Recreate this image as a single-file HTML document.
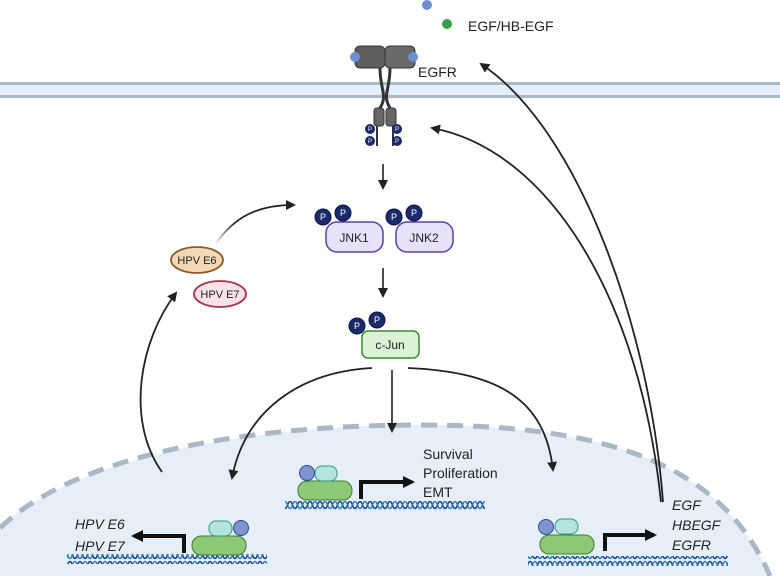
<!DOCTYPE html>
<html><head><meta charset="utf-8"><style>
html,body{margin:0;padding:0;background:#fff;width:780px;height:576px;overflow:hidden;}
svg{display:block;font-family:"Liberation Sans",sans-serif;}
</style></head><body>
<svg width="780" height="576" viewBox="0 0 780 576" xmlns="http://www.w3.org/2000/svg">
<defs>
<marker id="ah" markerWidth="10" markerHeight="10" refX="8" refY="5" orient="auto" markerUnits="userSpaceOnUse">
<path d="M0,0 L10,5 L0,10 z" fill="#222"/></marker>
<marker id="ah2" markerWidth="12" markerHeight="12" refX="9" refY="6" orient="auto" markerUnits="userSpaceOnUse">
<path d="M0,0 L12,6 L0,12 z" fill="#111"/></marker>
<pattern id="dna" patternUnits="userSpaceOnUse" width="10" height="10" x="0" y="0">
<path d="M0,1.5 C2.5,1.5 2.5,8.5 5,8.5 C7.5,8.5 7.5,1.5 10,1.5" fill="none" stroke="#1f3b8c" stroke-width="1.6"/>
<path d="M0,8.5 C2.5,8.5 2.5,1.5 5,1.5 C7.5,1.5 7.5,8.5 10,8.5" fill="none" stroke="#2a7fb8" stroke-width="1.6"/>
</pattern>
<linearGradient id="fade" x1="0" y1="1" x2="1" y2="0"><stop offset="0" stop-color="#222" stop-opacity="0"/><stop offset="0.4" stop-color="#222"/></linearGradient>
</defs>
<rect x="0" y="82" width="780" height="16" fill="#e3f0fb"/>
<rect x="0" y="82" width="780" height="3" fill="#aab9c6"/>
<rect x="0" y="95" width="780" height="3" fill="#aab9c6"/>
<path d="M-10,600 L-10,535 C60,465 230,425 420,425 C600,425 720,460 770,576 L770,600 Z" fill="#e6eff8"/>
<path d="M0,528 C70,460 230,425 420,425 C600,425 720,460 770,576" fill="none" stroke="#a9b8c6" stroke-width="5" stroke-dasharray="16,10"/>
<circle cx="427" cy="5" r="5" fill="#6c8fd4"/>
<circle cx="447" cy="24" r="5" fill="#3aa04a"/>
<text x="468" y="31" font-size="14" fill="#222">EGF/HB-EGF</text>
<rect x="355" y="46" width="30" height="22" rx="5" fill="#5e5e5e" stroke="#333"/>
<rect x="385" y="46" width="30" height="22" rx="5" fill="#6a6a6a" stroke="#333"/>
<circle cx="355" cy="57" r="5" fill="#6c8fd4"/>
<circle cx="413" cy="57" r="5" fill="#6c8fd4"/>
<path d="M380,68 C380,90 388,95 380,108 M390,68 C390,90 382,95 390,108" stroke="#333" stroke-width="3" fill="none"/>
<rect x="374" y="108" width="10" height="18" rx="3" fill="#666" stroke="#333"/>
<rect x="386" y="108" width="10" height="18" rx="3" fill="#666" stroke="#333"/>
<line x1="377" y1="126" x2="377" y2="146" stroke="#333" stroke-width="2"/>
<line x1="393" y1="126" x2="393" y2="146" stroke="#333" stroke-width="2"/>
<g fill="#1b2a6b">
<circle cx="370" cy="129" r="5"/><circle cx="370" cy="141" r="5"/><circle cx="397" cy="129" r="5"/><circle cx="397" cy="141" r="5"/>
</g>
<g fill="#fff" font-size="6" text-anchor="middle"><text x="370" y="131">P</text><text x="370" y="143">P</text><text x="397" y="131">P</text><text x="397" y="143">P</text></g>
<text x="418" y="77" font-size="14" fill="#222">EGFR</text>
<line x1="383" y1="164" x2="383" y2="188" stroke="#222" stroke-width="1.6" marker-end="url(#ah)"/>
<line x1="383" y1="268" x2="383" y2="296" stroke="#222" stroke-width="1.6" marker-end="url(#ah)"/>
<rect x="326" y="222" width="57" height="30" rx="11" fill="#e5e2fa" stroke="#5b3ea8" stroke-width="1.5"/>
<rect x="396" y="222" width="57" height="30" rx="11" fill="#e5e2fa" stroke="#5b3ea8" stroke-width="1.5"/>
<text x="354" y="242" font-size="12" text-anchor="middle" fill="#222">JNK1</text>
<text x="424" y="242" font-size="12" text-anchor="middle" fill="#222">JNK2</text>
<g fill="#1b2a6b" stroke="#0d1540"><circle cx="323" cy="217" r="8"/><circle cx="343" cy="213" r="8"/><circle cx="394" cy="217" r="8"/><circle cx="414" cy="213" r="8"/>
<circle cx="357" cy="326" r="8"/><circle cx="377" cy="320" r="8"/></g>
<g fill="#fff" font-size="9" text-anchor="middle"><text x="323" y="220">P</text><text x="343" y="216">P</text><text x="394" y="220">P</text><text x="414" y="216">P</text><text x="357" y="329">P</text><text x="377" y="323">P</text></g>
<rect x="362" y="331" width="57" height="27" rx="6" fill="#dcf2d6" stroke="#3a8a2e" stroke-width="1.5"/>
<text x="390" y="349" font-size="12" text-anchor="middle" fill="#222">c-Jun</text>
<ellipse cx="197" cy="260" rx="26" ry="13" fill="#f2d8b4" stroke="#8a5a2a" stroke-width="1.8"/>
<text x="197" y="264" font-size="11" text-anchor="middle" fill="#222">HPV E6</text>
<ellipse cx="220" cy="294" rx="26" ry="13" fill="#fbe2e8" stroke="#a8334f" stroke-width="1.8"/>
<text x="220" y="298" font-size="11" text-anchor="middle" fill="#222">HPV E7</text>
<path d="M215,245 C235,215 260,205 294,205" stroke="url(#fade)" stroke-width="1.8" fill="none" marker-end="url(#ah)"/>
<path d="M162,472 C125,420 140,340 176,293" stroke="#222" stroke-width="1.8" fill="none" marker-end="url(#ah)"/>
<path d="M372,368 C300,372 245,410 232,478" stroke="#222" stroke-width="1.8" fill="none" marker-end="url(#ah)"/>
<line x1="392" y1="370" x2="392" y2="431" stroke="#222" stroke-width="1.6" marker-end="url(#ah)"/>
<path d="M408,368 C500,372 545,400 553,470" stroke="#222" stroke-width="1.8" fill="none" marker-end="url(#ah)"/>
<path d="M663,502 C650,330 580,130 481,64" stroke="#222" stroke-width="1.8" fill="none" marker-end="url(#ah)"/>
<path d="M661,502 C640,300 550,150 432,128" stroke="#222" stroke-width="1.8" fill="none" marker-end="url(#ah)"/>
<rect x="285" y="501" width="200" height="10" fill="url(#dna)"/>
<rect x="298" y="481" width="54" height="19" rx="9" fill="#8cc876" stroke="#3d7a30"/>
<rect x="315" y="466" width="22" height="15" rx="7" fill="#b5e3dd" stroke="#2a9a90"/>
<circle cx="307" cy="473" r="7.5" fill="#7f94cf" stroke="#2b4a9a"/>
<path d="M361,499 V482 H412" stroke="#111" stroke-width="4" fill="none" marker-end="url(#ah2)"/>
<text x="423" y="459" font-size="14" fill="#222">Survival</text>
<text x="423" y="478" font-size="14" fill="#222">Proliferation</text>
<text x="423" y="497" font-size="14" fill="#222">EMT</text>
<rect x="67" y="554" width="200" height="10" fill="url(#dna)"/>
<rect x="192" y="536" width="54" height="19" rx="9" fill="#8cc876" stroke="#3d7a30"/>
<rect x="209" y="521" width="23" height="15" rx="7" fill="#b5e3dd" stroke="#2a9a90"/>
<circle cx="241" cy="528" r="7.5" fill="#7f94cf" stroke="#2b4a9a"/>
<path d="M184,553 V536 H134" stroke="#111" stroke-width="4" fill="none" marker-end="url(#ah2)"/>
<text x="75" y="529" font-size="14" font-style="italic" fill="#222">HPV E6</text>
<text x="75" y="551" font-size="14" font-style="italic" fill="#222">HPV E7</text>
<rect x="528" y="556" width="200" height="10" fill="url(#dna)"/>
<rect x="540" y="535" width="54" height="19" rx="9" fill="#8cc876" stroke="#3d7a30"/>
<rect x="555" y="519" width="23" height="15" rx="7" fill="#b5e3dd" stroke="#2a9a90"/>
<circle cx="546" cy="527" r="7.5" fill="#7f94cf" stroke="#2b4a9a"/>
<path d="M605,551 V535 H654" stroke="#111" stroke-width="4" fill="none" marker-end="url(#ah2)"/>
<text x="672" y="510" font-size="14" font-style="italic" fill="#222">EGF</text>
<text x="672" y="530" font-size="14" font-style="italic" fill="#222">HBEGF</text>
<text x="672" y="550" font-size="14" font-style="italic" fill="#222">EGFR</text>
</svg>
</body></html>
